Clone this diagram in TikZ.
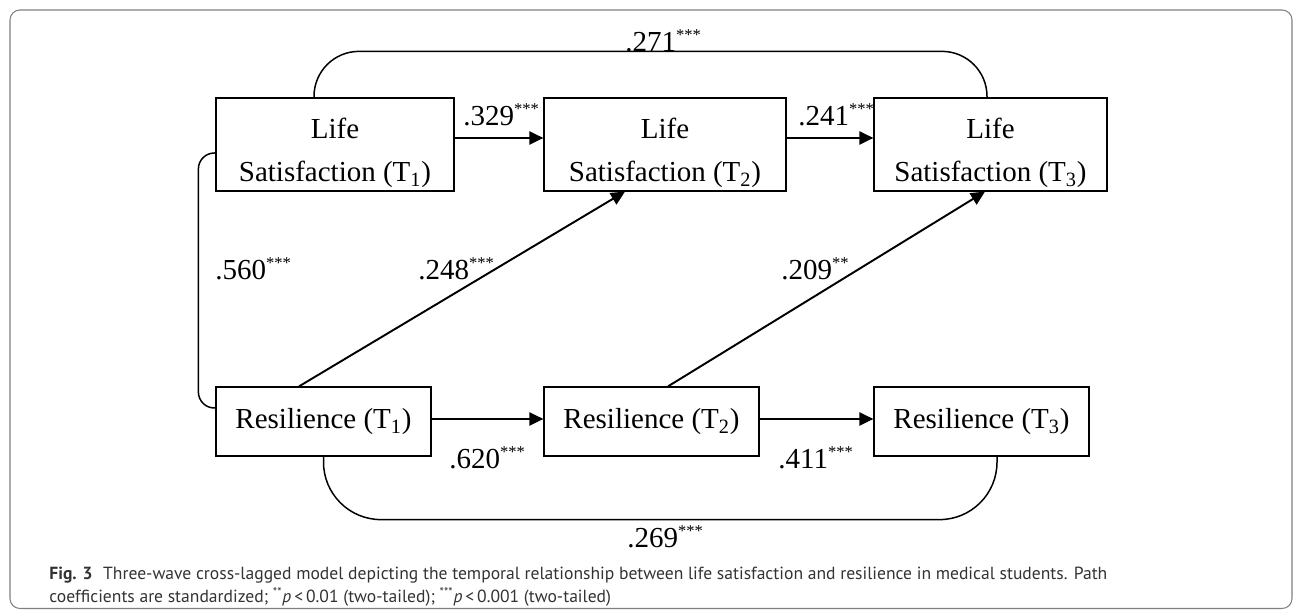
\documentclass[tikz,border=0pt]{standalone}
\usepackage{fontspec}
\setmainfont{Liberation Serif}
\newfontfamily\capfont{PT Sans}
\usetikzlibrary{arrows.meta}
\definecolor{capgray}{HTML}{333333}
\definecolor{framegray}{HTML}{808080}
\newcommand{\sigmark}[1]{\textsuperscript{\fontsize{9.4}{10}\selectfont #1}}

\begin{document}
\begin{tikzpicture}[
    lsbox/.style={draw, line width=0.7pt, align=center, inner sep=0pt, minimum height=1.86cm, font=\fontsize{16.5}{25}\selectfont},
    rbox/.style={draw, line width=0.7pt, inner sep=0pt, minimum width=4.3cm, minimum height=1.38cm, font=\fontsize{16.5}{25}\selectfont},
    arr/.style={line width=1.1pt, -{Triangle[length=8pt,width=7.5pt]}},
    cov/.style={line width=0.85pt},
    coef/.style={anchor=base west, inner sep=0pt, font=\fontsize{16.5}{20}\selectfont}
]
    \useasboundingbox (0,0) rectangle (25.86,12.22);
    \draw[framegray, line width=0.6pt, rounded corners=0.2cm] (0.2,0.05) rectangle (25.84,12.02); %frame

    % life satisfaction
    \node[lsbox, minimum width=4.76cm] (ls1) at (6.70,9.33) {\rule{0pt}{0.8cm}Life\\Satisfaction (T\textsubscript{1})\rule[-0.18cm]{0pt}{0.18cm}};
    \node[lsbox, minimum width=4.84cm] (ls2) at (13.30,9.33) {\rule{0pt}{0.8cm}Life\\Satisfaction (T\textsubscript{2})\rule[-0.18cm]{0pt}{0.18cm}};
    \node[lsbox, minimum width=4.66cm] (ls3) at (19.81,9.33) {\rule{0pt}{0.8cm}Life\\Satisfaction (T\textsubscript{3})\rule[-0.18cm]{0pt}{0.18cm}};

    % resilience
    \node[rbox] (r1) at (6.47,3.79) {Resilience (T\textsubscript{1})};
    \node[rbox] (r2) at (13.03,3.79) {Resilience (T\textsubscript{2})};
    \node[rbox] (r3) at (19.63,3.79) {Resilience (T\textsubscript{3})};

    % autoregressive paths
    \draw[arr] ([yshift=0.13cm]ls1.east) -- ([yshift=0.13cm]ls2.west);
    \draw[arr] ([yshift=0.13cm]ls2.east) -- ([yshift=0.13cm]ls3.west);
    \draw[arr] ([yshift=0.05cm]r1.east) -- ([yshift=0.05cm]r2.west);
    \draw[arr] ([yshift=0.05cm]r2.east) -- ([yshift=0.05cm]r3.west);

    % cross-lagged paths
    \draw[arr] ([xshift=-0.49cm]r1.north) -- ([xshift=-0.8cm]ls2.south);
    \draw[arr] ([xshift=0.33cm]r2.north) -- ([xshift=-0.11cm]ls3.south);

    % curved links
    \draw[cov, rounded corners=0.9cm] ([xshift=-0.42cm]ls1.north) -- ++(0,0.92) -| ([xshift=-0.07cm]ls3.north); %T1-T3 LS
    \draw[cov, rounded corners=0.32cm] ([yshift=-0.17cm]ls1.west) -- ++(-0.34,0) |- ([yshift=0.27cm]r1.west); %T1 corr
    \draw[cov, rounded corners=1.15cm] (r1.south) -- ++(0,-1.26) -| ([xshift=0.31cm]r3.south); %T1-T3 R

    % coefficients
    \node[coef] (c271) at (12.50,11.18) {.271\sigmark{***}};
    \node[coef] (c329) at (9.26,9.70) {.329\sigmark{***}};
    \node[coef] (c241) at (15.96,9.70) {.241\sigmark{***}};
    \node[coef] (c560) at (4.30,6.62) {.560\sigmark{***}};
    \node[coef] (c248) at (8.36,6.62) {.248\sigmark{***}};
    \node[coef] (c209) at (15.62,6.62) {.209\sigmark{**}};
    \node[coef] (c620) at (8.98,2.84) {.620\sigmark{***}};
    \node[coef] (c411) at (15.56,2.84) {.411\sigmark{***}};
    \node[coef] (c269) at (12.54,1.26) {.269\sigmark{***}};

    % caption
    \node[anchor=north west, inner sep=0pt, align=left, text=capgray, font=\capfont\fontsize{10}{13}\selectfont] (caption) at (0.98,0.88)
        {\textbf{Fig. 3}\hspace{0.6em}Three-wave cross-lagged model depicting the temporal relationship between life satisfaction and resilience in medical students. Path\\
        coefficients are standardized; \textsuperscript{**}\textit{p}\,<\,0.01 (two-tailed); \textsuperscript{***}\textit{p}\,<\,0.001 (two-tailed)};
\end{tikzpicture}
\end{document}
